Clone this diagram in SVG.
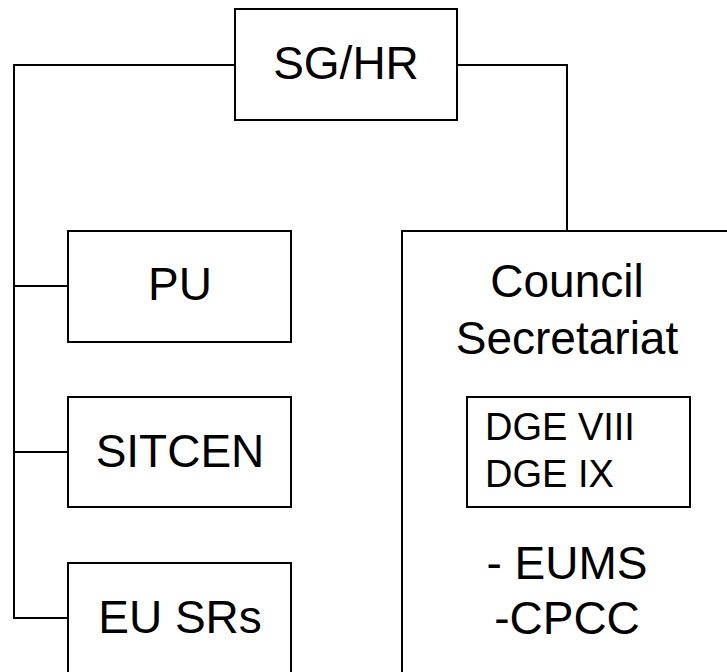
<svg xmlns="http://www.w3.org/2000/svg" width="727" height="672" viewBox="0 0 727 672">
<style>
.box{fill:#fff;stroke:#000;stroke-width:2}
.ln{fill:none;stroke:#000;stroke-width:2}
text{font-family:"Liberation Sans",Arial,sans-serif;fill:#000}
.big{font-size:46px;text-anchor:middle}
.small{font-size:38px}
</style>
<rect width="727" height="672" fill="#fff"/>
<g id="connectors">
<polyline class="ln" points="235,65 14,65 14,618 68,618"/>
<line class="ln" x1="14" y1="286" x2="68" y2="286"/>
<line class="ln" x1="14" y1="452" x2="68" y2="452"/>
<polyline class="ln" points="457,65 567,65 567,231"/>
</g>
<g id="sghr">
<rect class="box" x="235" y="9" width="222" height="111"/>
<text class="big" x="346" y="79">SG/HR</text>
</g>
<g id="pu">
<rect class="box" x="68" y="231" width="223" height="111"/>
<text class="big" x="180" y="300">PU</text>
</g>
<g id="sitcen">
<rect class="box" x="68" y="397" width="223" height="110"/>
<text class="big" x="180" y="467">SITCEN</text>
</g>
<g id="eusrs">
<rect class="box" x="68" y="563" width="223" height="130"/>
<text class="big" x="180" y="633">EU SRs</text>
</g>
<g id="council">
<rect class="box" x="402" y="231" width="340" height="460"/>
<text class="big" x="567" y="297">Council</text>
<text class="big" x="567" y="354">Secretariat</text>
<text class="big" x="567" y="579">- EUMS</text>
<text class="big" x="567" y="634">-CPCC</text>
</g>
<g id="dge">
<rect class="box" x="467" y="397" width="223" height="110"/>
<text class="small" x="485" y="440">DGE VIII</text>
<text class="small" x="485" y="487">DGE IX</text>
</g>
</svg>
